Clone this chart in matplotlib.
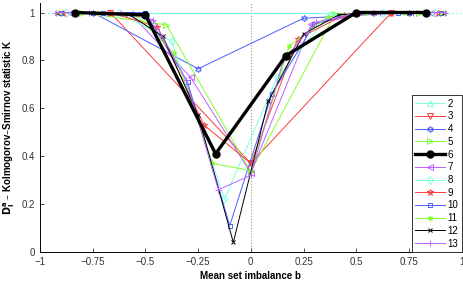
import matplotlib
matplotlib.use('Agg')
import matplotlib.pyplot as plt

# K statistic vs mean set imbalance, one series per set count n
labels = ['2', '3', '4', '5', '6', '7', '8', '9', '10', '11', '12', '13']

x2 = [-0.5, 0.5]
y2 = [1.0, 1.0]
x3 = [-0.667, 0.0, 0.667]
y3 = [1.0, 0.37, 1.0]
x4 = [-0.75, -0.25, 0.25, 0.75]
y4 = [1.0, 0.765, 0.976, 1.0]
x5 = [-0.8, -0.4, 0.0, 0.4, 0.8]
y5 = [1.0, 0.948, 0.335, 0.995, 1.0]
x6 = [-0.833, -0.5, -0.167, 0.167, 0.5, 0.833]
y6 = [1.0, 0.99, 0.41, 0.82, 1.0, 1.0]
x7 = [-0.857, -0.571, -0.286, 0.0, 0.286, 0.571, 0.857]
y7 = [1.0, 0.995, 0.73, 0.33, 0.95, 1.0, 1.0]
x8 = [-0.875, -0.625, -0.375, -0.125, 0.125, 0.375, 0.625, 0.875]
y8 = [1.0, 1.0, 0.88, 0.22, 0.73, 0.99, 1.0, 1.0]
x9 = [-0.889, -0.667, -0.444, -0.222, 0.0, 0.222, 0.444, 0.667, 0.889]
y9 = [1.0, 1.0, 0.94, 0.53, 0.37, 0.89, 0.99, 1.0, 1.0]
x10 = [-0.9, -0.7, -0.5, -0.3, -0.1, 0.1, 0.3, 0.5, 0.7, 0.9]
y10 = [1.0, 1.0, 1.0, 0.71, 0.11, 0.66, 0.95, 1.0, 1.0, 1.0]
x11 = [-0.909, -0.727, -0.545, -0.364, -0.182, 0.0, 0.182, 0.364, 0.545, 0.727, 0.909]
y11 = [1.0, 1.0, 0.99, 0.83, 0.37, 0.34, 0.86, 0.98, 1.0, 1.0, 1.0]
x12 = [-0.917, -0.75, -0.583, -0.417, -0.25, -0.083, 0.083, 0.25, 0.417, 0.583, 0.75, 0.917]
y12 = [1.0, 1.0, 0.995, 0.9, 0.57, 0.04, 0.63, 0.91, 0.99, 1.0, 1.0, 1.0]
x13 = [-0.923, -0.769, -0.615, -0.462, -0.308, -0.154, 0.0, 0.154, 0.308, 0.462, 0.615, 0.769, 0.923]
y13 = [1.0, 1.0, 1.0, 0.97, 0.72, 0.26, 0.32, 0.8, 0.96, 0.99, 1.0, 1.0, 1.0]

xs = [x2, x3, x4, x5, x6, x7, x8, x9, x10, x11, x12, x13]
ys = [y2, y3, y4, y5, y6, y7, y8, y9, y10, y11, y12, y13]

cyan = '#7fffdf'
red = '#ff3a3a'
blue = '#4a60ff'
green = '#80ff30'
violet = '#c060ff'
colors = [cyan, red, blue, green, 'black', violet, cyan, red, blue, green, 'black', violet]
# (6, 1, 0) = six point star (hexagram), (6, 2, 0) = asterisk
markers = ['^', 'v', (6, 1, 0), '>', 'o', '<', 'd', '*', 's', (6, 2, 0), 'x', '+']
sizes = [4, 4, 4.5, 4, 5, 4, 4.5, 5, 3.5, 4, 3, 4]

plt.rcParams['font.family'] = ['Liberation Sans', 'DejaVu Sans']

fig = plt.figure(figsize=(4.63, 2.84), dpi=100)
ax = fig.add_axes([0.0864, 0.1127, 0.9106, 0.877])

# reference lines
ax.plot([-1, 1], [1, 1], ':', color=cyan, lw=1.0, zorder=1)
ax.plot([0, 0], [0, 1.04], ':', color='#999999', lw=0.8, zorder=1)

for i in range(len(labels)):
    if labels[i] == '6':
        ax.plot(xs[i], ys[i], color='black', lw=2.4, marker='o', ms=sizes[i],
                mfc='black', mec='black', label=labels[i], zorder=5)
    else:
        ax.plot(xs[i], ys[i], color=colors[i], lw=0.7, marker=markers[i], ms=sizes[i],
                mfc='none', mec=colors[i], mew=0.7, label=labels[i], zorder=3)

ax.set_xlim(-1, 1)
ax.set_ylim(0, 1.04)
ax.set_xticks([-1, -0.75, -0.5, -0.25, 0, 0.25, 0.5, 0.75, 1])
ax.set_xticklabels(['\u22121', '\u22120.75', '\u22120.5', '\u22120.25', '0', '0.25', '0.5', '0.75', '1'])
ax.set_yticks([0, 0.2, 0.4, 0.6, 0.8, 1])
ax.set_yticklabels(['0', '0.2', '0.4', '0.6', '0.8', '1'])
ax.tick_params(direction='in', labelsize=7, length=3, width=0.6, colors='#333333')
ax.spines['top'].set_visible(False)
ax.spines['right'].set_visible(False)
ax.spines['left'].set_linewidth(0.7)
ax.spines['bottom'].set_linewidth(0.7)

ax.set_xlabel('Mean set imbalance b', fontsize=7, fontweight='bold', labelpad=3)
ax.set_ylabel(r'$\mathbf{D_I^a}$' + ' \u2013 Kolmogorov\u2013Smirnov statistic K',
              fontsize=7, fontweight='bold', labelpad=3)

leg = ax.legend(loc='lower right', bbox_to_anchor=(1.0, 0.0), fontsize=7,
                handlelength=3, labelspacing=0.28, borderpad=0.35, handletextpad=0.3,
                borderaxespad=0, fancybox=False, framealpha=1, edgecolor='#333333')
leg.get_frame().set_linewidth(0.7)

fig.savefig('out.png', dpi=100)
